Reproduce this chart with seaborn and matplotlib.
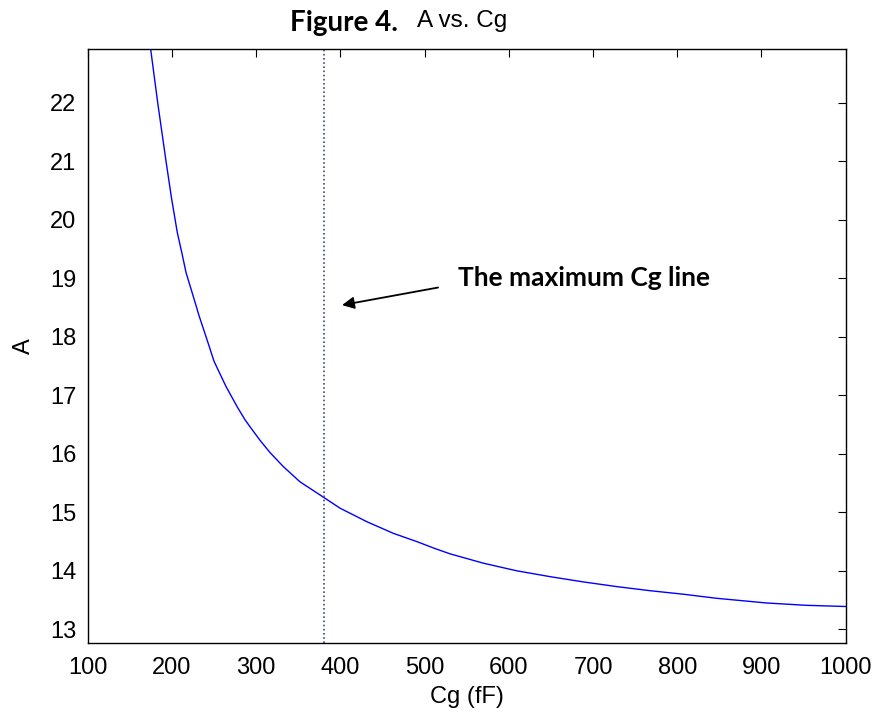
import matplotlib
matplotlib.use("Agg")
import matplotlib.pyplot as plt
import seaborn as sns
import pandas as pd

# Data
cg_values = [174.8, 183.1, 193.0, 199.5, 206.4, 212.3, 216.7, 226.6, 232.2, 244.4,
             250.0, 264.2, 277.6, 286.8, 292.8, 304.6, 316.5, 332.3, 352.1, 378.6,
             399.6, 431.3, 462.9, 490.6, 512.4, 530.2, 569.8, 609.4, 649.0, 688.5,
             728.1, 767.7, 807.2, 846.8, 906.2, 953.7, 1000.0]
a_values = [22.91, 22.00, 21.00, 20.37, 19.78, 19.40, 19.10, 18.63, 18.36, 17.83,
            17.58, 17.15, 16.80, 16.58, 16.46, 16.23, 16.02, 15.78, 15.52, 15.27,
            15.07, 14.84, 14.64, 14.50, 14.38, 14.29, 14.13, 14.00, 13.90, 13.81,
            13.73, 13.66, 13.60, 13.53, 13.45, 13.41, 13.39]
max_cg = 380
x_ticks = [100, 200, 300, 400, 500, 600, 700, 800, 900, 1000]
y_ticks = [13, 14, 15, 16, 17, 18, 19, 20, 21, 22]

df = pd.DataFrame({"Cg": cg_values, "A": a_values})

sns.set_theme(style="white")
plt.rcParams["font.family"] = ["Liberation Sans", "DejaVu Sans"]
plt.rcParams["text.color"] = "black"
plt.rcParams["axes.labelcolor"] = "black"
plt.rcParams["xtick.color"] = "black"
plt.rcParams["ytick.color"] = "black"

fig = plt.figure(figsize=(8.76, 7.15), dpi=100)
ax = fig.add_axes([0.1001, 0.101, 0.8653, 0.830])

sns.lineplot(data=df, x="Cg", y="A", ax=ax, color="#0000ff", linewidth=1.0)
ax.axvline(max_cg, color="#2f4f8f", linestyle=(0, (1, 1.5)), linewidth=1.2)

ax.set_xlim(100, 1000)
ax.set_ylim(12.77, 22.91)
ax.set_xticks(x_ticks)
ax.set_yticks(y_ticks)
ax.tick_params(direction="in", length=6, width=0.8, top=True, right=True,
               labelsize=17, colors="black", pad=8)
ax.tick_params(axis="x", pad=10)
for s in ax.spines.values():
    s.set_color("black")
    s.set_linewidth(1.0)

ax.set_xlabel("Cg (fF)", fontsize=17, labelpad=5, color="black")
ax.set_ylabel("A", fontsize=17, labelpad=11, color="black")

fig.text(0.331, 0.9566, "Figure 4.", fontsize=20, fontweight="bold",
         family=["Lato", "DejaVu Sans"], ha="left", va="baseline", color="black")
fig.text(0.476, 0.9622, "A vs. Cg", fontsize=17.5, ha="left", va="baseline",
         color="black")

ax.annotate("", xy=(402, 18.54), xytext=(516, 18.84),
            arrowprops=dict(arrowstyle="-|>", color="black", lw=1.3,
                            mutation_scale=18, shrinkA=0, shrinkB=0))
ax.text(540, 19.0, "The maximum Cg line", fontsize=19, fontweight="bold",
        family=["Lato", "DejaVu Sans"], ha="left", va="center", color="black")

fig.savefig("out.png", dpi=100, facecolor="white")
